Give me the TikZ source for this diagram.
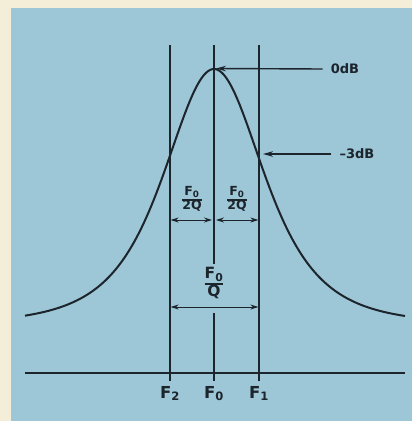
\documentclass[tikz,border=0pt]{standalone}
\usepackage{fontspec}
\setmainfont{DejaVu Sans}
\usetikzlibrary{arrows.meta}
\definecolor{bg}{RGB}{157,198,214}
\definecolor{paper}{RGB}{244,237,216}
\definecolor{ink}{RGB}{28,36,44}
\begin{document}
\begin{tikzpicture}[x=1pt,y=-1pt,
  guide/.style={ink, line width=1.1pt},
  axisline/.style={ink, line width=2.2pt},
  curveline/.style={ink, line width=2pt},
  dim/.style={ink, line width=1pt, {Stealth[length=8pt,width=5pt]}-{Stealth[length=8pt,width=5pt]}},
  ptr/.style={ink, line width=1.4pt, -{Stealth[length=10pt,width=5.5pt]}},
  lbl/.style={text=ink, inner sep=0pt},
  frac/.style={lbl, font=\bfseries\fontsize{12.5}{13}\selectfont},
  bigfrac/.style={lbl, font=\bfseries\fontsize{15.5}{16}\selectfont},
  dblbl/.style={lbl, font=\bfseries\fontsize{13}{14}\selectfont},
  flbl/.style={lbl, anchor=base, font=\bfseries\fontsize{16.5}{17}\selectfont}]
\setlength{\arrayrulewidth}{1.3pt}
\fill[paper] (0,0) rectangle (412,421);
\fill[bg] (11,8) rectangle (412,421);
\useasboundingbox (0,0) rectangle (412,421);

% vertical guide lines
\coordinate (f2t) at (170,45);  \coordinate (f2b) at (170,381);
\coordinate (f1t) at (259,45);  \coordinate (f1b) at (259,381);
\coordinate (f0t) at (214,45);  \coordinate (f0m) at (214,264);
\coordinate (f0n) at (214,313); \coordinate (f0b) at (214,381);
\draw[guide] (f2t) -- (f2b);
\draw[guide] (f1t) -- (f1b);
\draw[guide] (f0t) -- (f0m);
\draw[guide] (f0n) -- (f0b);

% axis
\coordinate (axl) at (25,373); \coordinate (axr) at (405,373);
\draw[axisline] (axl) -- (axr);

% response curve
\draw[curveline] plot[domain=25:405, samples=220, smooth]
  (\x,{325-256/(1+0.2346*((\x-214)/44.5)^2)^2});

% 0 dB pointer
\node[dblbl] (odb) at (345,69) {0dB};
\coordinate (peak) at (216,68.5);
\draw[ptr] ([xshift=-8pt]odb.west) -- (peak);

% -3 dB pointer
\node[dblbl] (m3) at (357,154) {–3dB};
\coordinate (m3pt) at (263,154);
\draw[ptr] ([xshift=-8pt]m3.west) -- (m3pt);

% half bandwidth labels
\node[frac] (hl) at (192,200) {\renewcommand{\arraystretch}{0.95}\begin{tabular}{@{}c@{}}F\textsubscript{0}\\\hline 2Q\end{tabular}};
\node[frac] (hr) at (237,200) {\renewcommand{\arraystretch}{0.95}\begin{tabular}{@{}c@{}}F\textsubscript{0}\\\hline 2Q\end{tabular}};
\coordinate (hl1) at (170.6,220); \coordinate (hl2) at (212,220);
\coordinate (hr1) at (216,220); \coordinate (hr2) at (258.4,220);
\draw[dim] (hl1) -- (hl2);
\draw[dim] (hr1) -- (hr2);

% full bandwidth label
\node[bigfrac] (bw) at (214,284) {\renewcommand{\arraystretch}{0.95}\begin{tabular}{@{}c@{}}F\textsubscript{0}\\\hline Q\end{tabular}};
\coordinate (bw1) at (170.6,307); \coordinate (bw2) at (258.4,307);
\draw[dim] (bw1) -- (bw2);

% frequency labels
\node[flbl] (lf2) at (170,398) {F\textsubscript{2}};
\node[flbl] (lf0) at (214,398) {F\textsubscript{0}};
\node[flbl] (lf1) at (259,398) {F\textsubscript{1}};
\end{tikzpicture}
\end{document}
